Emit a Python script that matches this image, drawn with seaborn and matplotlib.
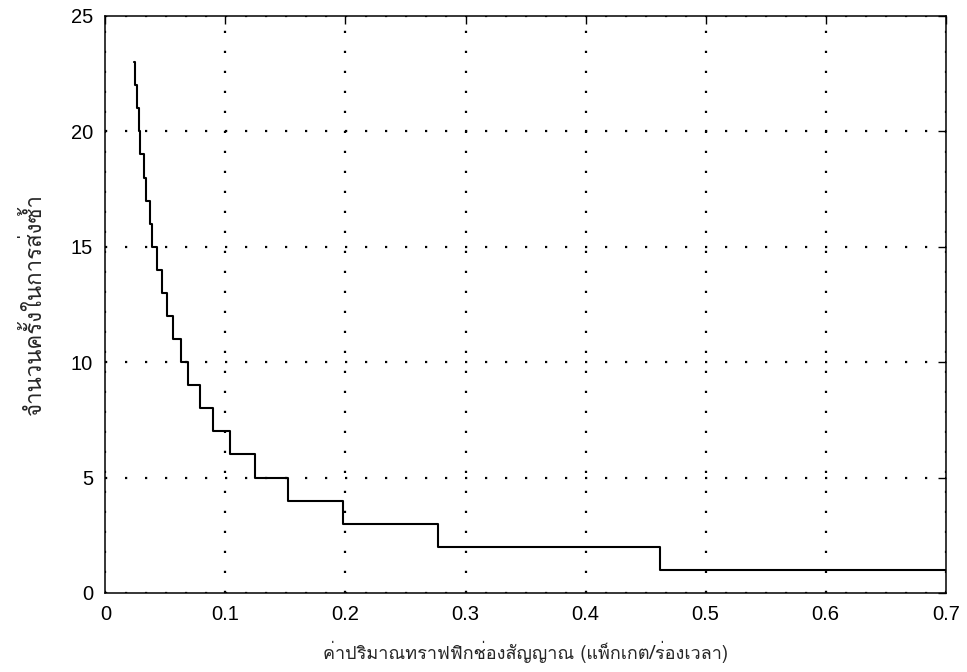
import matplotlib
matplotlib.use('Agg')
import matplotlib.pyplot as plt
from matplotlib import font_manager
from matplotlib.ft2font import FT2Font
import seaborn as sns
import pandas as pd

# step data: value holds from each x until the next one
traffic = [0.024, 0.025, 0.026, 0.028, 0.029, 0.032, 0.0335, 0.037, 0.039,
           0.043, 0.047, 0.051, 0.056, 0.063, 0.069, 0.079, 0.090, 0.104,
           0.125, 0.152, 0.198, 0.277, 0.462, 0.700]
retrans = [23, 22, 21, 20, 19, 18, 17, 16, 15, 14, 13, 12, 11, 10, 9, 8, 7,
           6, 5, 4, 3, 2, 1, 1]

x_ticks = [0, 0.1, 0.2, 0.3, 0.4, 0.5, 0.6, 0.7]
y_ticks = [0, 5, 10, 15, 20, 25]
x_label = 'ค่าปริมาณทราฟฟิกช่องสัญญาณ (แพ็กเกต/ร่องเวลา)'
y_label = 'จำนวนครั้งในการส่งซ้ำ'


def find_thai_font():
    """Return the name of an installed font that has Thai glyphs, if any."""
    for f in font_manager.fontManager.ttflist:
        try:
            cmap = FT2Font(f.fname).get_charmap()
        except Exception:
            continue
        if ord('ค') in cmap and ord('ญ') in cmap:
            return f.name
    return None


sns.set_style('white')
thai = find_thai_font()
label_family = [thai, 'DejaVu Sans'] if thai else ['DejaVu Sans']
plt.rcParams['font.family'] = ['Liberation Sans', 'DejaVu Sans']

df = pd.DataFrame({'traffic': traffic, 'retrans': retrans})

fig = plt.figure(figsize=(9.67, 6.72), dpi=100)
ax = fig.add_axes([0.109, 0.1176, 0.869, 0.8586])

sns.lineplot(data=df, x='traffic', y='retrans', ax=ax, color='black',
             linewidth=1.5, drawstyle='steps-post', estimator=None, sort=False)

ax.set_xlim(0, 0.7)
ax.set_ylim(0, 25)
ax.set_xticks(x_ticks)
ax.set_yticks(y_ticks)
ax.set_xticklabels([f'{t:g}' for t in x_ticks], fontsize=14.5)
ax.set_yticklabels([str(t) for t in y_ticks], fontsize=14.5)
ax.tick_params(direction='in', length=6, width=1, top=True, right=True,
               colors='black')
ax.tick_params(axis='x', pad=9)
ax.tick_params(axis='y', pad=9)

ax.grid(True, color='black', linestyle=(0, (1, 8)), linewidth=1.6)
for s in ax.spines.values():
    s.set_color('black')
    s.set_linewidth(1.1)

ax.set_xlabel(x_label, fontsize=13, family=label_family, labelpad=12)
ax.set_ylabel(y_label, fontsize=16, family=label_family, labelpad=18)

fig.savefig('out.png', dpi=100)
